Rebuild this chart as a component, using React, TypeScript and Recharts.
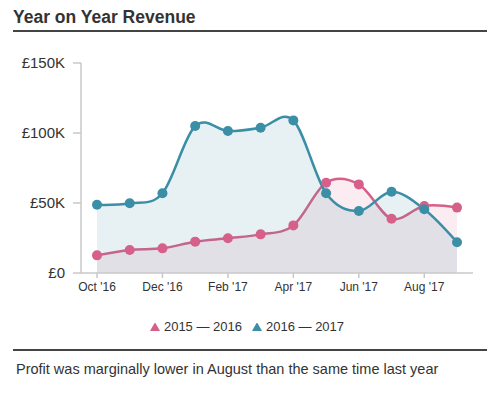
import { AreaChart, Area, XAxis, YAxis, Legend } from "recharts";

const months = [
  "Oct '16", "Nov '16", "Dec '16", "Jan '17", "Feb '17", "Mar '17",
  "Apr '17", "May '17", "Jun '17", "Jul '17", "Aug '17", "Sep '17",
];
const lastYear = [12600, 16400, 17600, 22400, 24800, 27600, 34000, 64500, 63300, 38800, 47900, 46700];
const thisYear = [48700, 49800, 57000, 105000, 101400, 103800, 109000, 57000, 44300, 58000, 45500, 22000];
const yTicks = [0, 50000, 100000, 150000];

const PINK = "#d6608a";
const BLUE = "#3a8ea6";
const FONT = "'Liberation Sans', Arial, Helvetica, sans-serif";

const data = months.map((m, i) => ({ month: m, lastYear: lastYear[i], thisYear: thisYear[i] }));

// cardinal spline (tension 0), same maths as d3's curveCardinal
function cardinal(context: any) {
  const k = 1 / 6;
  let x0 = NaN, x1 = NaN, x2 = NaN, y0 = NaN, y1 = NaN, y2 = NaN;
  let pt = 0;
  let line = NaN;
  const bez = (x: number, y: number) => {
    context.bezierCurveTo(
      x1 + k * (x2 - x0), y1 + k * (y2 - y0),
      x2 + k * (x1 - x), y2 + k * (y1 - y),
      x2, y2
    );
  };
  return {
    areaStart() { line = 0; },
    areaEnd() { line = NaN; },
    lineStart() { x0 = x1 = x2 = y0 = y1 = y2 = NaN; pt = 0; },
    lineEnd() {
      if (pt === 2) context.lineTo(x2, y2);
      else if (pt === 3) bez(x1, y1);
      if (line || (line !== 0 && pt === 1)) context.closePath();
      line = 1 - line;
    },
    point(x: number, y: number) {
      x = +x; y = +y;
      if (pt === 0) {
        pt = 1;
        if (line) context.lineTo(x, y); else context.moveTo(x, y);
      } else if (pt === 1) {
        pt = 2; x1 = x; y1 = y;
      } else {
        if (pt === 2) pt = 3;
        bez(x, y);
      }
      x0 = x1; x1 = x2; x2 = x;
      y0 = y1; y1 = y2; y2 = y;
    },
  };
}

const money = (v: number) => (v === 0 ? "£0" : `£${v / 1000}K`);

export default function App() {
  return (
    <div style={{ position: "absolute", left: 0, top: 0, width: 492, height: 397, background: "#fff", fontFamily: FONT, color: "#333" }}>
      <div style={{ position: "absolute", left: 13, top: 7, fontSize: 17.5, lineHeight: "20px", fontWeight: "bold" }}>
        Year on Year Revenue
      </div>
      <div style={{ position: "absolute", left: 13, top: 30, width: 474, height: 2, background: "#444" }} />

      <div style={{ position: "absolute", left: 0, top: 0 }}>
        <AreaChart width={492} height={334} data={data} margin={{ top: 63, right: 19, bottom: 0, left: 0 }} style={{ fontFamily: FONT }}>
          <YAxis
            width={81}
            domain={[0, 150000]}
            ticks={yTicks}
            tickFormatter={money}
            axisLine={{ stroke: "#c8c8c8", strokeWidth: 1.5 }}
            tickLine={{ stroke: "#c8c8c8", strokeWidth: 1.5 }}
            tickSize={8}
            tickMargin={8}
            tick={{ fill: "#333", fontSize: 15 }}
          />
          <XAxis
            dataKey="month"
            height={46}
            interval={1}
            padding={{ left: 16, right: 16 }}
            axisLine={{ stroke: "#c8c8c8", strokeWidth: 1.5 }}
            tickLine={{ stroke: "#c8c8c8", strokeWidth: 1.5 }}
            tickSize={5}
            tickMargin={4}
            tick={{ fill: "#333", fontSize: 12 }}
          />
          <Legend
            verticalAlign="bottom"
            iconType="triangle"
            iconSize={10}
            wrapperStyle={{ left: 0, width: 504, fontSize: 13 }}
            formatter={(v) => <span style={{ color: "#333" }}>{v}</span>}
          />
          <Area
            dataKey="lastYear"
            name="2015 — 2016"
            type={cardinal as any}
            stroke={PINK}
            strokeWidth={2.5}
            fill={PINK}
            fillOpacity={0.12}
            dot={{ r: 5, fill: PINK, fillOpacity: 1, stroke: "none" }}
            activeDot={false}
            isAnimationActive={false}
          />
          <Area
            dataKey="thisYear"
            name="2016 — 2017"
            type={cardinal as any}
            stroke={BLUE}
            strokeWidth={2.5}
            fill={BLUE}
            fillOpacity={0.12}
            dot={{ r: 5, fill: BLUE, fillOpacity: 1, stroke: "none" }}
            activeDot={false}
            isAnimationActive={false}
          />
        </AreaChart>
      </div>

      <div style={{ position: "absolute", left: 13, top: 349, width: 474, height: 2, background: "#444" }} />
      <div style={{ position: "absolute", left: 16, top: 359, fontSize: 14.5, lineHeight: "20px" }}>
        Profit was marginally lower in August than the same time last year
      </div>
    </div>
  );
}
